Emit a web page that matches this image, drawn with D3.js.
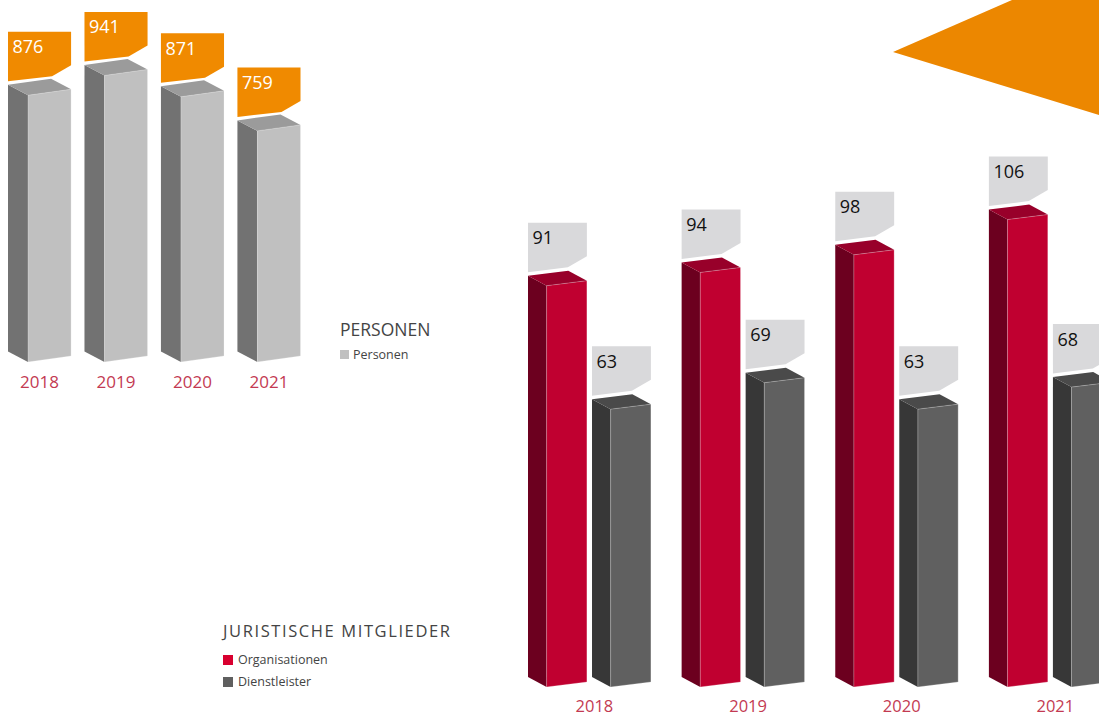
<!DOCTYPE html>
<html>
<head>
<meta charset="utf-8">
<script src="https://cdn.jsdelivr.net/npm/d3@7"></script>
<style>
  body { margin: 0; background: #fff; }
  svg { display: block; font-family: "Open Sans", sans-serif; }
</style>
</head>
<body>
<svg id="chart" width="1099" height="717"></svg>
<script>
// data
const years = ["2018", "2019", "2020", "2021"];
const personen = [876, 941, 871, 759];
const organisationen = [91, 94, 98, 106];
const dienstleister = [63, 69, 63, 68];

const svg = d3.select("#chart");

// orange corner shape
svg.append("path")
    .attr("d", "M893,52 L1012,0 L1099,0 L1099,115 Z")
    .attr("fill", "#ec8700");

// one pseudo 3d column
function column(g, bx, bw, y0, yt, dx, dy, s, c) {
    const fx = bx + dx, fw = bw - dx;
    const poly = pts => "M" + pts.map(p => p.join(",")).join("L") + "Z";
    g.append("path")
        .attr("d", poly([[bx, yt - dy], [fx, yt], [fx, y0], [bx, y0 - dy]]))
        .attr("fill", c.side);
    g.append("path")
        .attr("d", poly([[fx, yt], [fx + fw, yt - s], [fx + fw, y0 - s], [fx, y0]]))
        .attr("fill", c.front);
    g.append("path")
        .attr("d", poly([[bx, yt - dy], [bx + fw, yt - dy - s], [fx + fw, yt - s], [fx, yt]]))
        .attr("fill", c.top);
    // thin highlight edges
    g.append("path")
        .attr("d", poly([[fx, yt], [fx + fw, yt - s], [fx + fw, y0 - s], [fx, y0]]))
        .attr("fill", "none").attr("stroke", "#fff").attr("stroke-opacity", 0.35).attr("stroke-width", 0.7);
}

function callout(g, bx, by, w, fill, txt, color) {
    const pts = [[0, -53], [w, -53], [w, -19.5], [w - 19, -8.5], [0, -3.5]];
    g.append("path")
        .attr("d", "M" + pts.map(p => [bx + p[0], by + p[1]].join(",")).join("L") + "Z")
        .attr("fill", fill);
    g.append("text")
        .attr("x", bx + 4.5).attr("y", by - 31.5)
        .attr("font-size", 18).attr("fill", color)
        .text(txt);
}

// ---- PERSONEN chart ----
const x1 = d3.scaleBand().domain(years).range([8, 300.5]).paddingInner(0.175).paddingOuter(0);
const y1 = d3.scaleLinear().domain([0, 1000]).range([362, 57.5]);
const g1 = svg.append("g");
const greyCols = { front: "#c0c0c0", side: "#727272", top: "#9b9b9b" };

years.forEach((yr, i) => {
    const bx = x1(yr), bw = x1.bandwidth();
    const yt = y1(personen[i]);
    column(g1, bx, bw, y1(0), yt, 20, 10.5, 6, greyCols);
    callout(g1, bx, yt - 10.5, bw, "#f08a00", personen[i], "#fff");
    g1.append("text")
        .attr("x", bx + bw / 2).attr("y", 388)
        .attr("text-anchor", "middle")
        .attr("font-size", 17).attr("fill", "#c33a52")
        .text(yr);
});

svg.append("text").attr("x", 340).attr("y", 336)
    .attr("font-size", 17.5).attr("fill", "#444").text("PERSONEN");
svg.append("rect").attr("x", 340).attr("y", 350).attr("width", 9).attr("height", 9).attr("fill", "#c0c0c0");
svg.append("text").attr("x", 353).attr("y", 359)
    .attr("font-size", 12.5).attr("fill", "#444").text("Personen");

// ---- JURISTISCHE MITGLIEDER chart ----
const series = ["org", "dienst"];
const x2 = d3.scaleBand().domain(years).range([528, 1111.8]).paddingInner(0.2).paddingOuter(0);
const xs = d3.scaleBand().domain(series).range([0, x2.bandwidth()]).paddingInner(0.08).paddingOuter(0);
const y2 = d3.scaleLinear().domain([0, 100]).range([687, 246]);
const g2 = svg.append("g");
const cols2 = {
    org: { front: "#c00030", side: "#6c001f", top: "#98002a" },
    dienst: { front: "#606060", side: "#373737", top: "#4a4a4a" }
};
const vals2 = { org: organisationen, dienst: dienstleister };

years.forEach((yr, i) => {
    series.forEach(k => {
        const bx = x2(yr) + xs(k), bw = xs.bandwidth();
        const yt = y2(vals2[k][i]);
        column(g2, bx, bw, y2(0), yt, 18.6, 10, 5, cols2[k]);
        callout(g2, bx, yt - 10, bw, "#d9d9db", vals2[k][i], "#111");
    });
    g2.append("text")
        .attr("x", x2(yr) + x2.bandwidth() / 2 + 5).attr("y", 712)
        .attr("text-anchor", "middle")
        .attr("font-size", 16.5).attr("fill", "#c33a52")
        .text(yr);
});

svg.append("text").attr("x", 223).attr("y", 637)
    .attr("font-size", 16.5).attr("letter-spacing", 1.6).attr("fill", "#444").text("JURISTISCHE MITGLIEDER");
svg.append("rect").attr("x", 223).attr("y", 655).attr("width", 10).attr("height", 10).attr("fill", "#d8002f");
svg.append("text").attr("x", 238).attr("y", 664)
    .attr("font-size", 12.5).attr("fill", "#444").text("Organisationen");
svg.append("rect").attr("x", 223).attr("y", 677).attr("width", 10).attr("height", 10).attr("fill", "#5f5f5f");
svg.append("text").attr("x", 238).attr("y", 686)
    .attr("font-size", 12.5).attr("fill", "#444").text("Dienstleister");
</script>
</body>
</html>
